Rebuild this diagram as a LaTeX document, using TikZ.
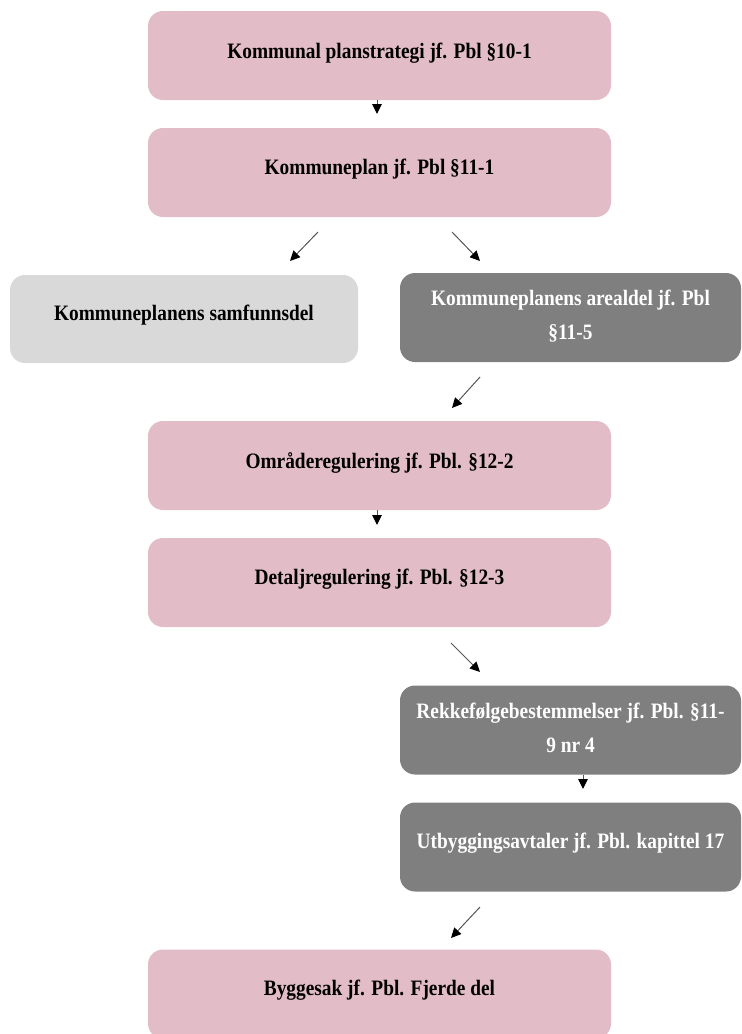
\documentclass[tikz,border=0pt]{standalone}
\usepackage{fontspec}
\setmainfont{Liberation Serif}[FakeStretch=0.88]
\usetikzlibrary{arrows.meta}
\definecolor{planpink}{HTML}{E2BCC6}
\definecolor{lightbox}{HTML}{D9D9D9}
\definecolor{darkbox}{HTML}{7F7F7F}
\definecolor{arrowline}{HTML}{555555}
\begin{document}
\begin{tikzpicture}[x=1pt,y=-1pt,
  box/.style={rounded corners=15pt,inner sep=0pt,outer sep=0pt},
  widebox/.style={box,fill=planpink,minimum width=463pt,minimum height=89pt},
  sidebox/.style={box,minimum width=341pt,minimum height=89pt},
  lbl/.style={font=\fontsize{22}{34}\selectfont\bfseries,align=center,inner sep=0pt},
  darklbl/.style={lbl,text=white},
  flow/.style={draw=arrowline,line width=1pt,
    -{Triangle[length=10pt,width=9.5pt,color=black]}},
]
\useasboundingbox (0,0) rectangle (742,1034);

% boxes
\node[widebox] (b1) at (379.5,55.5) {};
\node[widebox] (b2) at (379.5,172.5) {};
\node[box,fill=lightbox,minimum width=348pt,minimum height=88pt] (b3) at (184,319) {};
\node[sidebox,fill=darkbox] (b4) at (570.5,317.5) {};
\node[widebox] (b5) at (379.5,465.5) {};
\node[widebox] (b6) at (379.5,582.5) {};
\node[sidebox,fill=darkbox] (b7) at (570.5,730) {};
\node[sidebox,fill=darkbox] (b8) at (570.5,847) {};
\node[widebox] (b9) at (379.5,994) {};

% labels
\node[lbl] (t1) at ([yshift=2.5pt]b1.center) {Kommunal planstrategi jf. Pbl §10-1};
\node[lbl] (t2) at ([yshift=3pt]b2.center) {Kommuneplan jf. Pbl §11-1};
\node[lbl] (t3) at ([yshift=3.5pt]b3.center) {Kommuneplanens samfunnsdel};
\node[darklbl] (t4) at ([yshift=1pt]b4.center) {Kommuneplanens arealdel jf. Pbl\\§11-5};
\node[lbl] (t5) at ([yshift=3pt]b5.center) {Områderegulering jf. Pbl. §12-2};
\node[lbl] (t6) at ([yshift=3pt]b6.center) {Detaljregulering jf. Pbl. §12-3};
\node[darklbl] (t7) at ([yshift=2pt]b7.center) {Rekkefølgebestemmelser jf. Pbl. §11-\\9 nr 4};
\node[darklbl] (t8) at ([yshift=3.5pt]b8.center) {Utbyggingsavtaler jf. Pbl. kapittel 17};
\node[lbl] (t9) at ([yshift=3.5pt]b9.center) {Byggesak jf. Pbl. Fjerde del};

% arrow end points in the gaps between the boxes
\coordinate (s1) at (377,100);   \coordinate (e1) at (377,114);
\coordinate (s2) at (318,232);   \coordinate (e2) at (290,261);
\coordinate (s3) at (452,232);   \coordinate (e3) at (480,261);
\coordinate (s4) at (480,377);   \coordinate (e4) at (452,408);
\coordinate (s5) at (377,510);   \coordinate (e5) at (377,525);
\coordinate (s6) at (451,643);   \coordinate (e6) at (480,672);
\coordinate (s7) at (583,775);   \coordinate (e7) at (583,789);
\coordinate (s8) at (480,907);   \coordinate (e8) at (451,938);

\foreach \i in {1,...,8} \draw[flow] (s\i) -- (e\i);
\end{tikzpicture}
\end{document}
